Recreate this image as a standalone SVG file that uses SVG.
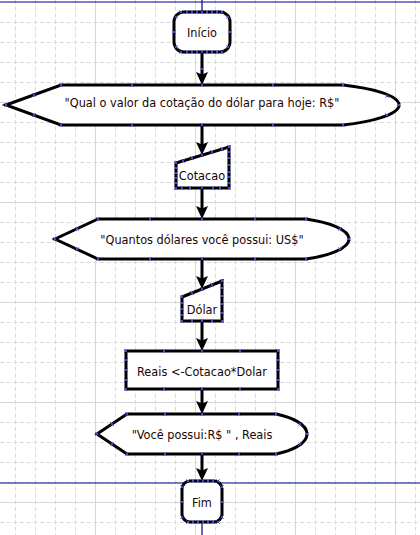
<svg xmlns="http://www.w3.org/2000/svg" width="420" height="535" viewBox="0 0 420 535">
<style>
.g{stroke:#d3ddda;stroke-width:1;stroke-dasharray:4 2.67}
.gs{stroke:#d0dbd8;stroke-width:1}
.shape{fill:#ffffff;stroke:#000000;stroke-width:3;stroke-linejoin:miter}
.t{font-family:"DejaVu Sans Condensed","DejaVu Sans",sans-serif;font-stretch:condensed;font-size:12.6px;fill:#1a0505;text-anchor:middle}
.conn{stroke:#000000;stroke-width:3;fill:none}
.blue{stroke:#00008b;stroke-width:1.2;fill:none}
</style>
<defs>
<marker id="arr" markerUnits="userSpaceOnUse" viewBox="0 0 13 12" markerWidth="13" markerHeight="12" refX="9" refY="6" orient="auto">
<path d="M0,0 L13,6 L0,12 L2.5,6 Z" fill="#000000"/>
</marker>
<path id="x" d="M-1.6,-1.6L1.6,1.6M-1.6,1.6L1.6,-1.6" stroke="#4646d2" stroke-width="1" fill="none"/>
</defs>
<rect width="420" height="535" fill="#ffffff"/>
<g id="grid">
<path class="g" d="M15.5,0V535M35.5,0V535M55.5,0V535M75.5,0V535M115.5,0V535M135.5,0V535M155.5,0V535M175.5,0V535M215.5,0V535M235.5,0V535M255.5,0V535M275.5,0V535M315.5,0V535M335.5,0V535M355.5,0V535M375.5,0V535M415.5,0V535"/>
<path class="g" d="M0,22.5H420M0,42.5H420M0,62.5H420M0,82.5H420M0,122.5H420M0,142.5H420M0,162.5H420M0,182.5H420M0,222.5H420M0,242.5H420M0,262.5H420M0,282.5H420M0,322.5H420M0,342.5H420M0,362.5H420M0,382.5H420M0,422.5H420M0,442.5H420M0,462.5H420M0,482.5H420M0,522.5H420"/>
<path class="gs" d="M95.5,0V535M195.5,0V535M295.5,0V535M395.5,0V535M0,102.5H420M0,202.5H420M0,302.5H420M0,402.5H420M0,502.5H420"/>
</g>
<g id="page">
<path class="blue" d="M0,2H420M0,483H420M202,0V12M202,522V535"/>
</g>
<g id="connectors">
<line class="conn" x1="202" y1="52" x2="202" y2="81" marker-end="url(#arr)"/>
<line class="conn" x1="202" y1="125" x2="202" y2="151" marker-end="url(#arr)"/>
<line class="conn" x1="202" y1="188" x2="202" y2="215" marker-end="url(#arr)"/>
<line class="conn" x1="202" y1="259" x2="202" y2="285" marker-end="url(#arr)"/>
<line class="conn" x1="202" y1="321" x2="202" y2="347" marker-end="url(#arr)"/>
<line class="conn" x1="202" y1="389" x2="202" y2="410" marker-end="url(#arr)"/>
<line class="conn" x1="202" y1="454" x2="202" y2="477" marker-end="url(#arr)"/>
</g>
<g id="inicio">
<rect class="shape" x="174" y="12" width="56" height="40" rx="10" ry="10"/>
<text class="t" x="202" y="37.3">Início</text>
<use href="#x" x="181" y="12"/><use href="#x" x="187" y="12"/><use href="#x" x="192" y="12"/><use href="#x" x="197" y="12"/><use href="#x" x="202" y="12"/><use href="#x" x="207" y="12"/><use href="#x" x="212" y="12"/><use href="#x" x="217" y="12"/><use href="#x" x="222" y="12"/>
<use href="#x" x="181" y="52"/><use href="#x" x="187" y="52"/><use href="#x" x="192" y="52"/><use href="#x" x="197" y="52"/><use href="#x" x="202" y="52"/><use href="#x" x="207" y="52"/><use href="#x" x="212" y="52"/><use href="#x" x="217" y="52"/><use href="#x" x="222" y="52"/>
<use href="#x" x="174" y="32"/><use href="#x" x="230" y="32"/><use href="#x" x="176" y="17"/><use href="#x" x="228" y="17"/><use href="#x" x="176" y="47"/><use href="#x" x="228" y="47"/>
<use href="#x" x="202" y="69"/>
</g>
<g id="saida1">
<path class="shape" d="M6,105 L61,85 L343,85 C370,88 399,95 399,105 C399,115 370,122 343,125 L61,125 Z"/>
<text class="t" x="202" y="106.5">"Qual o valor da cotação do dólar para hoje: R$"</text>
<use href="#x" x="6" y="105"/><use href="#x" x="34" y="95"/><use href="#x" x="34" y="115"/>
<use href="#x" x="61" y="85"/><use href="#x" x="132" y="85"/><use href="#x" x="202" y="85"/><use href="#x" x="273" y="85"/><use href="#x" x="343" y="85"/>
<use href="#x" x="61" y="125"/><use href="#x" x="132" y="125"/><use href="#x" x="202" y="125"/><use href="#x" x="273" y="125"/><use href="#x" x="343" y="125"/>
<use href="#x" x="387" y="96"/><use href="#x" x="399" y="105"/><use href="#x" x="387" y="115"/>
</g>
<g id="cotacao">
<path class="shape" d="M176,163 L229,147 L229,188 L176,188 Z"/>
<text class="t" x="202" y="180">Cotacao</text>
<use href="#x" x="176" y="163"/><use href="#x" x="183" y="161"/><use href="#x" x="192" y="158"/><use href="#x" x="202" y="155"/><use href="#x" x="212" y="152"/><use href="#x" x="222" y="149"/><use href="#x" x="229" y="147"/>
<use href="#x" x="176" y="168"/><use href="#x" x="176" y="173"/><use href="#x" x="176" y="178"/><use href="#x" x="176" y="183"/><use href="#x" x="176" y="188"/>
<use href="#x" x="229" y="152"/><use href="#x" x="229" y="158"/><use href="#x" x="229" y="165"/><use href="#x" x="229" y="172"/><use href="#x" x="229" y="177"/><use href="#x" x="229" y="183"/><use href="#x" x="229" y="188"/>
<use href="#x" x="182" y="188"/><use href="#x" x="190" y="188"/><use href="#x" x="202" y="188"/><use href="#x" x="213" y="188"/><use href="#x" x="220" y="188"/>
</g>
<g id="saida2">
<path class="shape" d="M55,239 L98,219 L306,219 C327,222 349,229 349,239 C349,249 327,256 306,259 L98,259 Z"/>
<text class="t" x="202" y="244">"Quantos dólares você possui: US$"</text>
<use href="#x" x="55" y="239"/><use href="#x" x="77" y="229"/><use href="#x" x="77" y="249"/>
<use href="#x" x="98" y="219"/><use href="#x" x="150" y="219"/><use href="#x" x="202" y="219"/><use href="#x" x="255" y="219"/><use href="#x" x="306" y="219"/>
<use href="#x" x="98" y="259"/><use href="#x" x="150" y="259"/><use href="#x" x="202" y="259"/><use href="#x" x="255" y="259"/><use href="#x" x="306" y="259"/>
<use href="#x" x="340" y="229"/><use href="#x" x="349" y="239"/><use href="#x" x="340" y="249"/>
</g>
<g id="dolar">
<path class="shape" d="M182,297 L222,281 L222,321 L182,321 Z"/>
<text class="t" x="202" y="314">Dólar</text>
<use href="#x" x="182" y="297"/><use href="#x" x="192" y="293"/><use href="#x" x="202" y="289"/><use href="#x" x="212" y="285"/><use href="#x" x="222" y="281"/>
<use href="#x" x="182" y="303"/><use href="#x" x="182" y="309"/><use href="#x" x="182" y="315"/><use href="#x" x="182" y="321"/>
<use href="#x" x="222" y="288"/><use href="#x" x="222" y="296"/><use href="#x" x="222" y="304"/><use href="#x" x="222" y="313"/><use href="#x" x="222" y="321"/>
<use href="#x" x="192" y="321"/><use href="#x" x="202" y="321"/><use href="#x" x="212" y="321"/>
</g>
<g id="processo">
<rect class="shape" x="126" y="351" width="152" height="38"/>
<text class="t" x="202" y="376">Reais &lt;-Cotacao*Dolar</text>
<use href="#x" x="126" y="351"/><use href="#x" x="164" y="351"/><use href="#x" x="202" y="351"/><use href="#x" x="240" y="351"/><use href="#x" x="278" y="351"/>
<use href="#x" x="126" y="389"/><use href="#x" x="164" y="389"/><use href="#x" x="202" y="389"/><use href="#x" x="240" y="389"/><use href="#x" x="278" y="389"/>
<use href="#x" x="126" y="360"/><use href="#x" x="126" y="370"/><use href="#x" x="126" y="380"/>
<use href="#x" x="278" y="360"/><use href="#x" x="278" y="370"/><use href="#x" x="278" y="380"/>
</g>
<g id="saida3">
<path class="shape" d="M97,434 L127,414 L276,414 C291,417 307,424 307,434 C307,444 291,451 276,454 L127,454 Z"/>
<text class="t" x="202" y="438.5" xml:space="preserve">"Você possui:R$ " , Reais</text>
<use href="#x" x="97" y="434"/><use href="#x" x="112" y="424"/><use href="#x" x="112" y="444"/>
<use href="#x" x="127" y="414"/><use href="#x" x="165" y="414"/><use href="#x" x="202" y="414"/><use href="#x" x="239" y="414"/><use href="#x" x="276" y="414"/>
<use href="#x" x="127" y="454"/><use href="#x" x="165" y="454"/><use href="#x" x="202" y="454"/><use href="#x" x="239" y="454"/><use href="#x" x="276" y="454"/>
<use href="#x" x="300" y="424"/><use href="#x" x="307" y="434"/><use href="#x" x="300" y="444"/>
</g>
<g id="fim">
<rect class="shape" x="182" y="481" width="40" height="41" rx="8" ry="8"/>
<text class="t" x="202" y="506.5">Fim</text>
<use href="#x" x="188" y="481"/><use href="#x" x="193" y="481"/><use href="#x" x="198" y="481"/><use href="#x" x="203" y="481"/><use href="#x" x="208" y="481"/><use href="#x" x="213" y="481"/><use href="#x" x="218" y="481"/>
<use href="#x" x="188" y="522"/><use href="#x" x="193" y="522"/><use href="#x" x="198" y="522"/><use href="#x" x="203" y="522"/><use href="#x" x="208" y="522"/><use href="#x" x="213" y="522"/><use href="#x" x="218" y="522"/>
<use href="#x" x="182" y="487"/><use href="#x" x="182" y="502"/><use href="#x" x="182" y="517"/>
<use href="#x" x="222" y="487"/><use href="#x" x="222" y="502"/><use href="#x" x="222" y="517"/>
</g>
</svg>
